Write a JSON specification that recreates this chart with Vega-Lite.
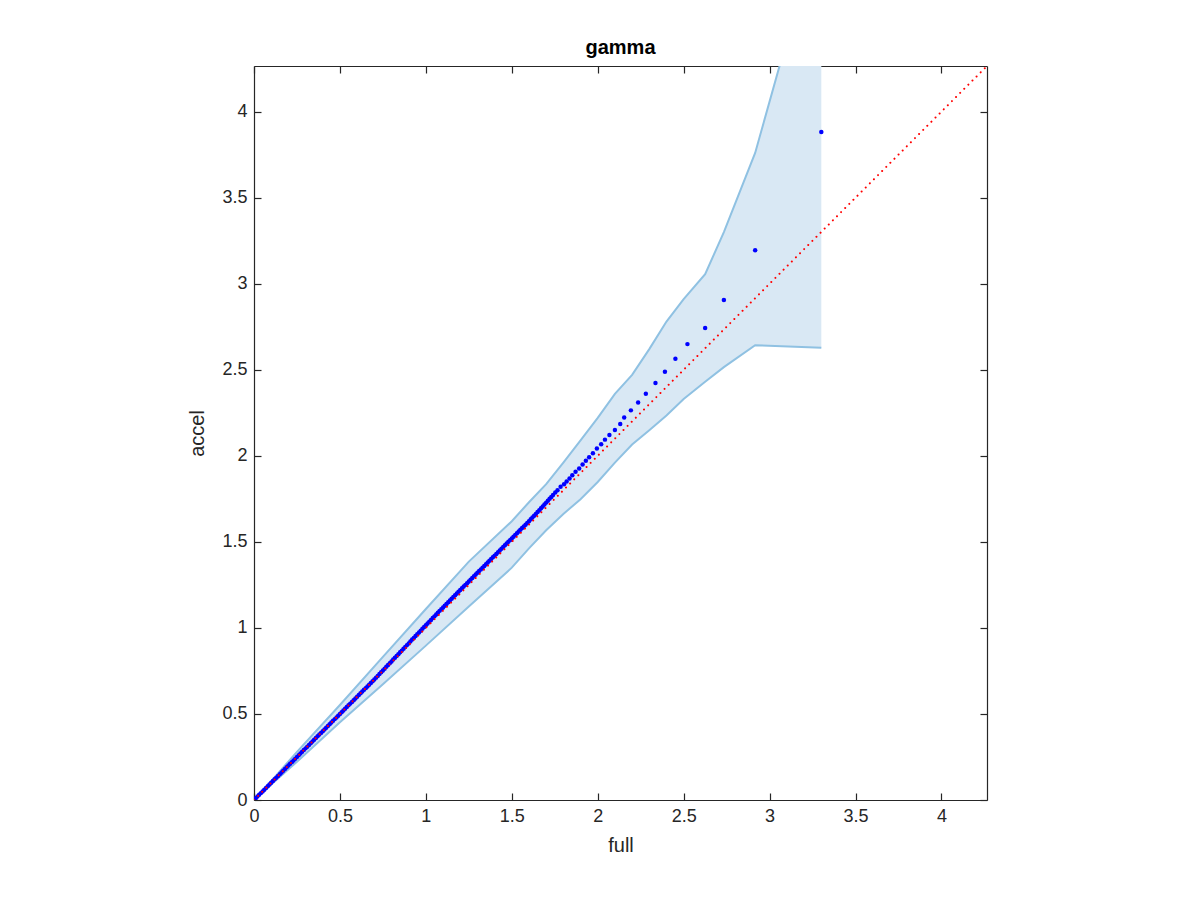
{
  "$schema": "https://vega.github.io/schema/vega-lite/v6.json",
  "width": 733,
  "height": 734,
  "autosize": "none",
  "padding": {"left": 254, "top": 66, "right": 213, "bottom": 100},
  "background": "white",
  "config": {
    "view": {"stroke": null},
    "font": "Liberation Sans",
    "axis": {
      "domainColor": "#262626", "domainWidth": 1.2, "tickColor": "#262626", "tickWidth": 1.2,
      "labelColor": "#262626", "labelFont": "Liberation Sans", "labelFontSize": 18,
      "titleColor": "#262626", "titleFont": "Liberation Sans", "titleFontSize": 20, "titleFontWeight": "normal",
      "grid": false, "tickSize": -7, "labelFlush": false
    }
  },
  "title": {"text": "gamma", "fontSize": 20, "fontWeight": "bold", "color": "#000000", "font": "Liberation Sans", "anchor": "middle", "offset": 7},
  "datasets": {
    "band": [
      {"x": 0, "lo": 0, "hi": 0},
      {"x": 0.1, "lo": 0.09, "hi": 0.11},
      {"x": 0.25, "lo": 0.222, "hi": 0.28},
      {"x": 0.5, "lo": 0.452, "hi": 0.552},
      {"x": 0.75, "lo": 0.673, "hi": 0.832},
      {"x": 1.0, "lo": 0.897, "hi": 1.11},
      {"x": 1.25, "lo": 1.125, "hi": 1.385},
      {"x": 1.5, "lo": 1.35, "hi": 1.62},
      {"x": 1.6, "lo": 1.462, "hi": 1.73},
      {"x": 1.7, "lo": 1.567, "hi": 1.835},
      {"x": 1.8, "lo": 1.662, "hi": 1.96},
      {"x": 1.9, "lo": 1.748, "hi": 2.09},
      {"x": 2.0, "lo": 1.848, "hi": 2.22},
      {"x": 2.1, "lo": 1.96, "hi": 2.36},
      {"x": 2.2, "lo": 2.066, "hi": 2.47},
      {"x": 2.3, "lo": 2.149, "hi": 2.62},
      {"x": 2.4, "lo": 2.234, "hi": 2.78},
      {"x": 2.5, "lo": 2.33, "hi": 2.91},
      {"x": 2.625, "lo": 2.43, "hi": 3.055},
      {"x": 2.734, "lo": 2.515, "hi": 3.3},
      {"x": 2.916, "lo": 2.643, "hi": 3.76},
      {"x": 3.301, "lo": 2.628, "hi": 5.13}
    ],
    "diag": [{"x": 0, "y": 0}, {"x": 4.265, "y": 4.265}],
    "pts": [
      {"x":0,"y":0},{"x":0.01,"y":0.01},{"x":0.02,"y":0.02},{"x":0.03,"y":0.03},{"x":0.04,"y":0.04},{"x":0.05,"y":0.05},{"x":0.06,"y":0.06},{"x":0.07,"y":0.07},{"x":0.08,"y":0.08},{"x":0.09,"y":0.09},
      {"x":0.1,"y":0.1},{"x":0.11,"y":0.11},{"x":0.12,"y":0.12},{"x":0.13,"y":0.13},{"x":0.14,"y":0.14},{"x":0.15,"y":0.15},{"x":0.16,"y":0.16},{"x":0.17,"y":0.17},{"x":0.18,"y":0.18},{"x":0.19,"y":0.19},
      {"x":0.2,"y":0.2},{"x":0.21,"y":0.21},{"x":0.22,"y":0.22},{"x":0.23,"y":0.23},{"x":0.24,"y":0.24},{"x":0.25,"y":0.25},{"x":0.26,"y":0.26},{"x":0.27,"y":0.27},{"x":0.28,"y":0.28},{"x":0.29,"y":0.29},
      {"x":0.3,"y":0.3},{"x":0.31,"y":0.31},{"x":0.32,"y":0.32},{"x":0.33,"y":0.33},{"x":0.34,"y":0.34},{"x":0.35,"y":0.35},{"x":0.36,"y":0.36},{"x":0.37,"y":0.37},{"x":0.38,"y":0.38},{"x":0.39,"y":0.39},
      {"x":0.4,"y":0.4},{"x":0.41,"y":0.41},{"x":0.42,"y":0.42},{"x":0.43,"y":0.43},{"x":0.44,"y":0.44},{"x":0.45,"y":0.45},{"x":0.46,"y":0.46},{"x":0.47,"y":0.47},{"x":0.48,"y":0.48},{"x":0.49,"y":0.49},
      {"x":0.5,"y":0.5},{"x":0.51,"y":0.51},{"x":0.52,"y":0.52},{"x":0.53,"y":0.53},{"x":0.54,"y":0.54},{"x":0.55,"y":0.55},{"x":0.56,"y":0.56},{"x":0.57,"y":0.57},{"x":0.58,"y":0.58},{"x":0.59,"y":0.59},
      {"x":0.6,"y":0.6},{"x":0.61,"y":0.61},{"x":0.62,"y":0.62},{"x":0.63,"y":0.63},{"x":0.64,"y":0.64},{"x":0.65,"y":0.65},{"x":0.66,"y":0.66},{"x":0.67,"y":0.67},{"x":0.68,"y":0.68},{"x":0.69,"y":0.69},
      {"x":0.7,"y":0.7},{"x":0.71,"y":0.711},{"x":0.72,"y":0.721},{"x":0.73,"y":0.732},{"x":0.74,"y":0.742},{"x":0.75,"y":0.753},{"x":0.76,"y":0.763},{"x":0.77,"y":0.774},{"x":0.78,"y":0.784},{"x":0.79,"y":0.795},
      {"x":0.8,"y":0.805},{"x":0.81,"y":0.816},{"x":0.82,"y":0.826},{"x":0.83,"y":0.837},{"x":0.84,"y":0.847},{"x":0.85,"y":0.858},{"x":0.86,"y":0.868},{"x":0.87,"y":0.879},{"x":0.88,"y":0.889},{"x":0.89,"y":0.9},
      {"x":0.9,"y":0.91},{"x":0.91,"y":0.921},{"x":0.92,"y":0.932},{"x":0.93,"y":0.942},{"x":0.94,"y":0.953},{"x":0.95,"y":0.963},{"x":0.96,"y":0.974},{"x":0.97,"y":0.984},{"x":0.98,"y":0.995},{"x":0.99,"y":1.005},
      {"x":1.0,"y":1.015},{"x":1.01,"y":1.025},{"x":1.02,"y":1.036},{"x":1.03,"y":1.046},{"x":1.04,"y":1.057},{"x":1.05,"y":1.067},{"x":1.06,"y":1.078},{"x":1.07,"y":1.088},{"x":1.08,"y":1.099},{"x":1.09,"y":1.109},
      {"x":1.1,"y":1.119},{"x":1.11,"y":1.129},{"x":1.12,"y":1.139},{"x":1.13,"y":1.149},{"x":1.14,"y":1.159},{"x":1.15,"y":1.17},{"x":1.16,"y":1.18},{"x":1.17,"y":1.19},{"x":1.18,"y":1.2},{"x":1.19,"y":1.21},
      {"x":1.2,"y":1.22},{"x":1.21,"y":1.23},{"x":1.22,"y":1.24},{"x":1.23,"y":1.25},{"x":1.24,"y":1.26},{"x":1.25,"y":1.27},{"x":1.26,"y":1.28},{"x":1.27,"y":1.29},{"x":1.28,"y":1.3},{"x":1.29,"y":1.31},
      {"x":1.3,"y":1.32},{"x":1.31,"y":1.33},{"x":1.32,"y":1.34},{"x":1.33,"y":1.35},{"x":1.34,"y":1.36},{"x":1.35,"y":1.37},{"x":1.36,"y":1.38},{"x":1.37,"y":1.39},{"x":1.38,"y":1.4},{"x":1.39,"y":1.41},
      {"x":1.4,"y":1.42},{"x":1.41,"y":1.43},{"x":1.42,"y":1.44},{"x":1.43,"y":1.45},{"x":1.44,"y":1.46},{"x":1.45,"y":1.47},{"x":1.46,"y":1.48},{"x":1.47,"y":1.49},{"x":1.48,"y":1.5},{"x":1.49,"y":1.51},
      {"x":1.5,"y":1.52},{"x":1.51,"y":1.53},{"x":1.52,"y":1.54},{"x":1.53,"y":1.55},{"x":1.54,"y":1.56},{"x":1.55,"y":1.57},{"x":1.56,"y":1.58},{"x":1.57,"y":1.59},{"x":1.58,"y":1.6},{"x":1.59,"y":1.61},
      {"x":1.6,"y":1.62},{"x":1.61,"y":1.631},{"x":1.62,"y":1.641},{"x":1.63,"y":1.652},{"x":1.64,"y":1.662},{"x":1.65,"y":1.673},{"x":1.66,"y":1.683},{"x":1.67,"y":1.695},{"x":1.68,"y":1.706},{"x":1.69,"y":1.717},
      {"x":1.7,"y":1.728},{"x":1.71,"y":1.739},{"x":1.72,"y":1.75},{"x":1.73,"y":1.761},{"x":1.74,"y":1.772},{"x":1.753,"y":1.787},
      {"x":1.766,"y":1.8},{"x":1.784,"y":1.82},{"x":1.804,"y":1.835},{"x":1.819,"y":1.851},{"x":1.836,"y":1.868},{"x":1.852,"y":1.887},
      {"x":1.871,"y":1.907},{"x":1.892,"y":1.926},{"x":1.912,"y":1.95},{"x":1.931,"y":1.971},{"x":1.95,"y":1.992},{"x":1.972,"y":2.015},
      {"x":1.995,"y":2.042},{"x":2.02,"y":2.067},{"x":2.042,"y":2.094},{"x":2.068,"y":2.121},{"x":2.1,"y":2.15},{"x":2.131,"y":2.185},
      {"x":2.154,"y":2.222},{"x":2.193,"y":2.264},{"x":2.235,"y":2.31},{"x":2.28,"y":2.361},{"x":2.336,"y":2.423},{"x":2.391,"y":2.489},
      {"x":2.452,"y":2.564},{"x":2.522,"y":2.649},{"x":2.625,"y":2.742},{"x":2.734,"y":2.905},{"x":2.916,"y":3.194},{"x":3.301,"y":3.881}
    ]
  },
  "layer": [
    {
      "data": {"name": "band"},
      "mark": {"type": "area", "color": "#d9e8f4", "opacity": 1, "clip": true},
      "encoding": {
        "x": {"field": "x", "type": "quantitative", "scale": {"domain": [0, 4.265], "nice": false, "zero": false},
              "axis": {"orient": "bottom", "title": "full", "values": [0, 0.5, 1, 1.5, 2, 2.5, 3, 3.5, 4], "labelExpr": "'' + datum.value", "labelPadding": 14, "titlePadding": 10}},
        "y": {"field": "lo", "type": "quantitative", "scale": {"domain": [0, 4.265], "nice": false, "zero": false},
              "axis": {"orient": "left", "title": "accel", "values": [0, 0.5, 1, 1.5, 2, 2.5, 3, 3.5, 4], "labelExpr": "'' + datum.value", "labelPadding": 14, "titlePadding": 14}},
        "y2": {"field": "hi"}
      }
    },
    {
      "data": {"name": "band"},
      "mark": {"type": "line", "color": "#8fc1e2", "strokeWidth": 2, "clip": true},
      "encoding": {
        "x": {"field": "x", "type": "quantitative", "axis": null},
        "y": {"field": "lo", "type": "quantitative", "axis": null}
      }
    },
    {
      "data": {"name": "band"},
      "mark": {"type": "line", "color": "#8fc1e2", "strokeWidth": 2, "clip": true},
      "encoding": {
        "x": {"field": "x", "type": "quantitative", "axis": null},
        "y": {"field": "hi", "type": "quantitative", "axis": null}
      }
    },
    {
      "data": {"name": "pts"},
      "mark": {"type": "circle", "color": "#0000ff", "size": 20, "opacity": 1, "clip": true},
      "encoding": {
        "x": {"field": "x", "type": "quantitative", "axis": null},
        "y": {"field": "y", "type": "quantitative", "axis": null}
      }
    },
    {
      "data": {"name": "diag"},
      "mark": {"type": "line", "color": "#ff0000", "strokeWidth": 2, "strokeCap": "round", "strokeDash": [0.01, 5.8], "clip": true},
      "encoding": {
        "x": {"field": "x", "type": "quantitative",
              "axis": {"orient": "top", "title": null, "labels": false, "values": [0, 0.5, 1, 1.5, 2, 2.5, 3, 3.5, 4]}},
        "y": {"field": "y", "type": "quantitative",
              "axis": {"orient": "right", "title": null, "labels": false, "values": [0, 0.5, 1, 1.5, 2, 2.5, 3, 3.5, 4]}}
      }
    }
  ],
  "resolve": {"axis": {"x": "independent", "y": "independent"}}
}
